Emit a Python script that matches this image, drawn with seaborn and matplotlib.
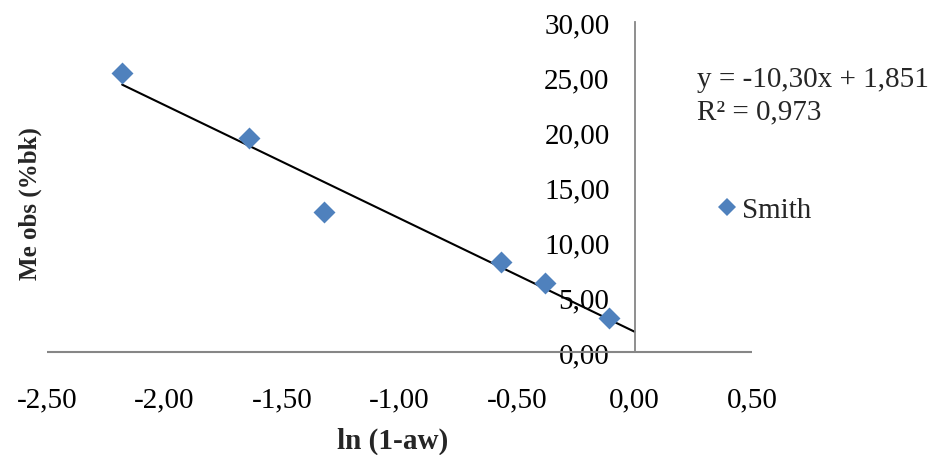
import matplotlib
matplotlib.use("Agg")
import matplotlib.pyplot as plt
import seaborn as sns
import numpy as np
import pandas as pd
from matplotlib.ticker import FuncFormatter, MultipleLocator
from matplotlib.lines import Line2D

# ---- data ----
ln_aw = [-2.18, -1.64, -1.32, -0.57, -0.38, -0.11]
me_obs = [25.36, 19.43, 12.75, 8.15, 6.27, 3.06]
series_name = "Smith"
slope = -10.30
intercept = 1.851
eq_label = "y = -10,30x + 1,851"
r2_label = "R² = 0,973"
x_label = "ln (1-aw)"
y_label = "Me obs (%bk)"

sns.set_theme(style="white")
plt.rcParams['font.family'] = ['Liberation Serif', 'DejaVu Serif']

W, H = 933, 456
fig = plt.figure(figsize=(W / 100, H / 100), dpi=100)
left, right, top, bottom = 47, 752, 23, 380
ax = fig.add_axes([left / W, 1 - bottom / H, (right - left) / W, (bottom - top) / H])

df = pd.DataFrame({"x": ln_aw, "y": me_obs, "s": series_name})
sns.scatterplot(data=df, x="x", y="y", marker="D", s=125, color="#4F81BD",
                linewidth=0, ax=ax, zorder=3, legend=False)

# trend line from fitted equation
xl = np.array([min(ln_aw), 0.0])
ax.plot(xl, slope * xl + intercept, color="black", lw=1.5, zorder=2)

ax.set_xlim(-2.5, 0.5)
ax.set_ylim(-2.45, 30)
ax.xaxis.set_major_locator(MultipleLocator(0.5))
fmt = FuncFormatter(lambda v, p: f"{v:.2f}".replace(".", ","))
ax.xaxis.set_major_formatter(fmt)
ax.yaxis.set_major_formatter(fmt)
ax.set_yticks([0, 5, 10, 15, 20, 25, 30])

for s in ["top", "right", "bottom"]:
    ax.spines[s].set_visible(False)
ax.spines["left"].set_position(("data", 0))
ax.spines["left"].set_bounds(0, 30)
ax.spines["left"].set_color("#868686")
ax.spines["left"].set_linewidth(1.3)
ax.axhline(0, color="#868686", lw=1.5, zorder=1)

ax.tick_params(axis="both", length=0, labelsize=21, colors="black")
ax.tick_params(axis="y", pad=18)
ax.tick_params(axis="x", pad=5)
ax.grid(False)
ax.set_facecolor("none")

ax.set_xlabel("")
ax.set_ylabel("")
fig.text(393 / W, 1 - 441 / H, x_label, ha="center", va="center",
         fontsize=21, fontweight="bold")
fig.text(30 / W, 1 - 204 / H, y_label, ha="center", va="center",
         fontsize=18, fontweight="bold", rotation=90)

fig.text(697 / W, 1 - 80 / H, eq_label, ha="left", va="center", fontsize=21)
fig.text(697 / W, 1 - 112 / H, r2_label, ha="left", va="center", fontsize=21)

h = Line2D([], [], marker="D", color="#4F81BD", linestyle="none", markersize=9,
           markeredgewidth=0)
fig.legend([h], [series_name], loc="center left",
           bbox_to_anchor=(717 / W, 1 - 211 / H), frameon=False, fontsize=21,
           handlelength=0.7, handletextpad=0.15, borderpad=0, borderaxespad=0)

fig.savefig("out.png", dpi=100)
